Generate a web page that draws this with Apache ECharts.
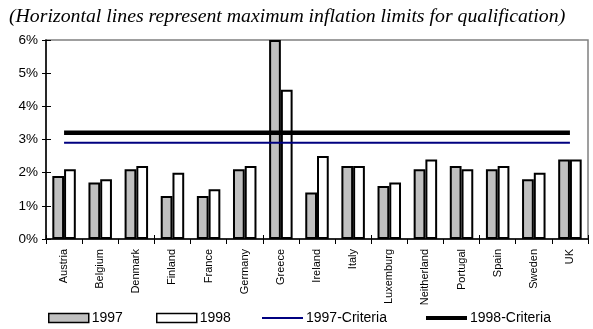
<!DOCTYPE html>
<html>
<head>
<meta charset="utf-8">
<script src="https://cdn.jsdelivr.net/npm/echarts@6/dist/echarts.min.js"></script>
<style>
  html, body { margin: 0; padding: 0; background: #fff; }
  #chart { width: 593px; height: 329px; }
</style>
</head>
<body>
<div id="chart"></div>
<script>
// EU inflation by country, 1997 and 1998, with the qualification ceilings
const countries = ['Austria', 'Belgium', 'Denmark', 'Finland', 'France', 'Germany', 'Greece',
  'Ireland', 'Italy', 'Luxemburg', 'Neitherland', 'Portugal', 'Spain', 'Sweden', 'UK'];
const inflation1997 = [1.9, 1.7, 2.1, 1.3, 1.3, 2.1, 6.0, 1.4, 2.2, 1.6, 2.1, 2.2, 2.1, 1.8, 2.4];
const inflation1998 = [2.1, 1.8, 2.2, 2.0, 1.5, 2.2, 4.5, 2.5, 2.2, 1.7, 2.4, 2.1, 2.2, 2.0, 2.4];
const criteria1997 = [2.9, 2.9, 2.9, 2.9, 2.9, 2.9, 2.9, 2.9, 2.9, 2.9, 2.9, 2.9, 2.9, 2.9, 2.9];
const criteria1998 = [3.2, 3.2, 3.2, 3.2, 3.2, 3.2, 3.2, 3.2, 3.2, 3.2, 3.2, 3.2, 3.2, 3.2, 3.2];
const yTicks = [0, 1, 2, 3, 4, 5, 6];

const chart = echarts.init(document.getElementById('chart'), null, { renderer: 'canvas' });
const font = 'Liberation Sans, Arial, sans-serif';

// one legend block per entry so each can sit at its own x position
function legendItem(name, left, width, height, fill, border, borderWidth) {
  return {
    left: left, top: 310, orient: 'horizontal',
    data: [name], icon: 'rect',
    itemWidth: width, itemHeight: height,
    itemGap: 0, padding: 0,
    selectedMode: false,
    itemStyle: { color: fill, borderColor: border, borderWidth: borderWidth },
    textStyle: { fontFamily: font, fontSize: 14, lineHeight: 16, color: '#000', padding: [0, 0, 0, -2] }
  };
}

chart.setOption({
  animation: false,
  backgroundColor: '#fff',
  title: {
    text: '(Horizontal lines represent maximum inflation limits for qualification)',
    left: 4, top: 2,
    textStyle: {
      fontFamily: 'Liberation Serif, Times New Roman, serif',
      fontStyle: 'italic', fontWeight: 'normal', fontSize: 19.8, color: '#000'
    }
  },
  grid: {
    left: 46, top: 40, right: 5, bottom: 90,
    show: true, borderColor: '#808080', borderWidth: 1.5, backgroundColor: 'transparent'
  },
  legend: [
    legendItem('1997', 48, 40, 9, '#c0c0c0', '#000', 1.5),
    legendItem('1998', 156, 40, 9, '#fff', '#000', 1.5),
    legendItem('1997-Criteria', 262, 41, 2, '#000080', '#000080', 0),
    legendItem('1998-Criteria', 426, 41, 4, '#000', '#000', 0)
  ],
  xAxis: [{
    type: 'category', data: countries, position: 'bottom',
    axisLine: { lineStyle: { color: '#000', width: 1.5 } },
    axisTick: { show: true, inside: false, length: 5, lineStyle: { color: '#000', width: 1 } },
    axisLabel: { rotate: 90, margin: 10, fontFamily: font, fontSize: 11, color: '#000', interval: 0 },
    splitLine: { show: false }
  }, {
    type: 'category', data: countries, position: 'bottom',
    axisLine: { show: false },
    axisTick: { show: true, inside: true, length: 4, lineStyle: { color: '#000', width: 1 } },
    axisLabel: { show: false },
    splitLine: { show: false }
  }],
  yAxis: [{
    type: 'value', min: yTicks[0], max: yTicks[yTicks.length - 1], interval: 1,
    axisLine: { show: true, lineStyle: { color: '#000', width: 1.5 } },
    axisTick: { show: true, inside: false, length: 4, lineStyle: { color: '#000', width: 1 } },
    axisLabel: { margin: 8, fontFamily: font, fontSize: 13.5, color: '#000', formatter: v => v + '%' },
    splitLine: { show: false }
  }, {
    type: 'value', min: yTicks[0], max: yTicks[yTicks.length - 1], interval: 1, position: 'left',
    axisLine: { show: false },
    axisTick: { show: true, inside: true, length: 5, lineStyle: { color: '#000', width: 1 } },
    axisLabel: { show: false },
    splitLine: { show: false }
  }],
  series: [{
    name: '1997', type: 'bar', data: inflation1997,
    barGap: '0%', barCategoryGap: '35%',
    itemStyle: { color: '#c0c0c0', borderColor: '#000', borderWidth: 2 },
    z: 2
  }, {
    name: '1998', type: 'bar', data: inflation1998,
    barGap: '0%', barCategoryGap: '35%',
    itemStyle: { color: '#fff', borderColor: '#000', borderWidth: 2 },
    z: 2
  }, {
    name: '1997-Criteria', type: 'line', data: criteria1997,
    symbol: 'none', color: '#000080',
    lineStyle: { color: '#000080', width: 2 },
    z: 5
  }, {
    name: '1998-Criteria', type: 'line', data: criteria1998,
    symbol: 'none', color: '#000',
    lineStyle: { color: '#000', width: 4.5 },
    z: 6
  }]
});
</script>
</body>
</html>
